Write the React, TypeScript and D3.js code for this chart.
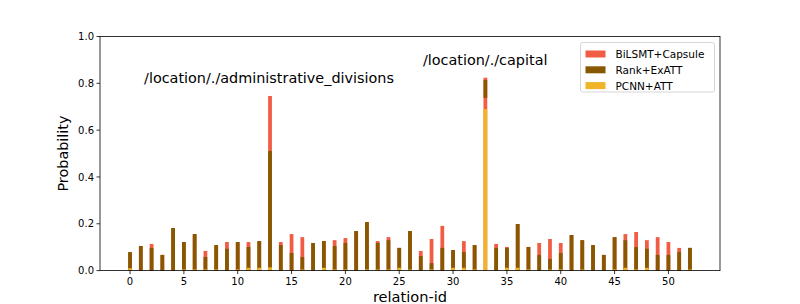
import React from "react";
import * as d3 from "d3";

const relationIds: number[] = d3.range(0, 53);

// BiLSMT+Capsule (drawn first, from 0)
const bilstmCapsule: number[] = [
  0.079, 0.105, 0.114, 0.067, 0.182, 0.122, 0.156, 0.084, 0.109, 0.122,
  0.122, 0.122, 0.126, 0.746, 0.122, 0.156, 0.143, 0.118, 0.126, 0.13,
  0.139, 0.169, 0.207, 0.126, 0.143, 0.097, 0.169, 0.084, 0.135, 0.191,
  0.088, 0.126, 0.109, 0.824, 0.114, 0.101, 0.199, 0.101, 0.118, 0.135,
  0.118, 0.152, 0.13, 0.109, 0.067, 0.143, 0.156, 0.165, 0.13, 0.143,
  0.122, 0.097, 0.097,
];

// Rank+ExATT
const rankExatt: number[] = [
  0.079, 0.105, 0.097, 0.067, 0.182, 0.122, 0.156, 0.058, 0.109, 0.093,
  0.122, 0.101, 0.126, 0.511, 0.109, 0.075, 0.058, 0.118, 0.126, 0.105,
  0.118, 0.169, 0.207, 0.118, 0.13, 0.097, 0.169, 0.062, 0.032, 0.097,
  0.088, 0.079, 0.109, 0.814, 0.097, 0.097, 0.199, 0.101, 0.067, 0.05,
  0.075, 0.152, 0.13, 0.109, 0.067, 0.143, 0.13, 0.101, 0.093, 0.067,
  0.067, 0.079, 0.097,
];

// base of the Rank+ExATT bar (non-zero only where it is lifted)
const rankExattBase: number[] = relationIds.map((i) => (i === 33 ? 0.738 : 0));

// PCNN+ATT
const pcnnAtt: number[] = [
  0.01, 0, 0, 0, 0, 0.005, 0.005, 0.005, 0.005, 0,
  0.005, 0.012, 0.012, 0.014, 0, 0, 0.005, 0, 0.012, 0.005,
  0.005, 0, 0.005, 0.005, 0.005, 0.012, 0.005, 0, 0.005, 0,
  0.012, 0.012, 0.005, 0.69, 0, 0.012, 0.012, 0.005, 0, 0.005,
  0.005, 0, 0.005, 0, 0, 0.005, 0.012, 0.005, 0.012, 0,
  0, 0, 0.005,
];

const seriesNames = ["BiLSMT+Capsule", "Rank+ExATT", "PCNN+ATT"];
const seriesColors = ["#f15c45", "#875800", "#f0b428"];
const xTicks = [0, 5, 10, 15, 20, 25, 30, 35, 40, 45, 50];
const yTicks = [0, 0.2, 0.4, 0.6, 0.8, 1.0];
const annotations = [
  { x: 1.3, y: 0.8, text: "/location/./administrative_divisions" },
  { x: 27.2, y: 0.88, text: "/location/./capital" },
];

const W = 800;
const H = 304;
const left = 100;
const right = 720;
const top = 36.5;
const bottom = 270.6;
const barW = 0.35;
const font = "DejaVu Sans, sans-serif";

export default function App() {
  const x = d3.scaleLinear().domain([-2.79, 54.79]).range([left, right]);
  const y = d3.scaleLinear().domain([0, 1]).range([bottom, top]);
  const bw = x(barW) - x(0);

  const layers = [
    { vals: bilstmCapsule, base: relationIds.map(() => 0), color: seriesColors[0] },
    { vals: rankExatt, base: rankExattBase, color: seriesColors[1] },
    { vals: pcnnAtt, base: relationIds.map(() => 0), color: seriesColors[2] },
  ];

  return (
    <svg
      width={W}
      height={H}
      style={{ position: "absolute", left: 0, top: 0, background: "#fff" }}
      fontFamily={font}
    >
      <rect x={0} y={0} width={W} height={H} fill="#fff" />
      {layers.map((L, li) => (
        <g key={li}>
          {relationIds.map((id, i) =>
            L.vals[i] > L.base[i] ? (
              <rect
                key={id}
                x={x(id) - bw / 2}
                y={y(L.vals[i])}
                width={bw}
                height={y(L.base[i]) - y(L.vals[i])}
                fill={L.color}
              />
            ) : null
          )}
        </g>
      ))}
      {/* axes frame */}
      <rect x={left} y={top} width={right - left} height={bottom - top} fill="none" stroke="#000" strokeWidth={0.8} />
      {xTicks.map((t) => (
        <g key={t}>
          <line x1={x(t)} x2={x(t)} y1={bottom} y2={bottom + 3.5} stroke="#000" strokeWidth={0.8} />
          <text x={x(t)} y={bottom + 14.5} textAnchor="middle" fontSize={10}>
            {t}
          </text>
        </g>
      ))}
      {yTicks.map((t) => (
        <g key={t}>
          <line x1={left} x2={left - 3.5} y1={y(t)} y2={y(t)} stroke="#000" strokeWidth={0.8} />
          <text x={left - 6} y={y(t) + 3.6} textAnchor="end" fontSize={10}>
            {t.toFixed(1)}
          </text>
        </g>
      ))}
      <text x={(left + right) / 2} y={302} textAnchor="middle" fontSize={14.6}>
        relation-id
      </text>
      <text
        transform={`translate(${68},${(top + bottom) / 2}) rotate(-90)`}
        textAnchor="middle"
        fontSize={14.4}
      >
        Probability
      </text>
      {annotations.map((a, i) => (
        <text key={i} x={x(a.x)} y={y(a.y)} fontSize={14.4}>
          {a.text}
        </text>
      ))}
      {/* legend */}
      <g transform="translate(580.5,42.5)">
        <rect x={0} y={0} width={134} height={49.5} rx={2} fill="#fff" fillOpacity={0.8} stroke="#cccccc" strokeWidth={0.8} />
        {seriesNames.map((n, i) => (
          <g key={n} transform={`translate(0,${8 + i * 15.8})`}>
            <rect x={5} y={0} width={20} height={7} fill={seriesColors[i]} />
            <text x={35} y={7.5} fontSize={10.5}>
              {n}
            </text>
          </g>
        ))}
      </g>
    </svg>
  );
}
